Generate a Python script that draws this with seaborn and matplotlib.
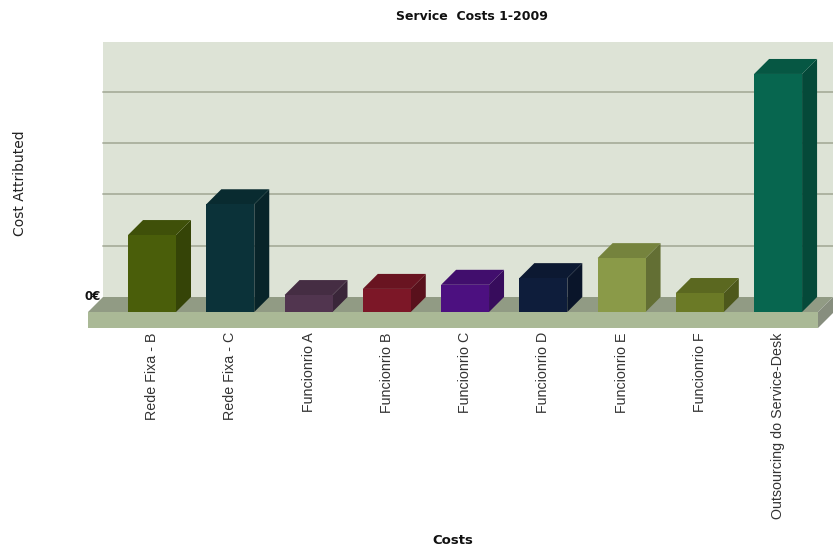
import numpy as np
import pandas as pd
import matplotlib
matplotlib.use("Agg")
import matplotlib.pyplot as plt
from matplotlib.patches import Polygon, Rectangle
import seaborn as sns

# Cost data (euros)
categories = ["Rede Fixa - B", "Rede Fixa - C", "Funcionrio A", "Funcionrio B",
              "Funcionrio C", "Funcionrio D", "Funcionrio E", "Funcionrio F",
              "Outsourcing do Service-Desk"]
costs = [1500, 2100, 330, 450, 530, 660, 1050, 370, 4640]
grid_levels = [1000, 2000, 3000, 4000]

front_colors = ["#4a5e0a", "#0b3239", "#51354f", "#7c1727", "#4c1080",
                "#0e1d3b", "#8a9a48", "#6b7a26", "#07664f"]


def shade(c, f):
    r, g, b = matplotlib.colors.to_rgb(c)
    return (r * f, g * f, b * f)


sns.set_theme(style="white")
plt.rcParams["font.family"] = ["DejaVu Sans"]

W, H = 833, 550
fig = plt.figure(figsize=(W / 100, H / 100), dpi=100)
fig.patch.set_facecolor("white")

# front plane of the 3D box (pixels)
left_px, right_px, base_px, top_px = 88, 818, 312, 57
depth = 15  # pixel offset of the back wall
ax = fig.add_axes([left_px / W, 1 - base_px / H, (right_px - left_px) / W,
                   (base_px - top_px) / H])
ax.patch.set_visible(False)

df = pd.DataFrame({"category": categories, "cost": costs})
sns.barplot(data=df, x="category", y="cost", hue="category", palette=front_colors,
            width=0.613, saturation=1, legend=False, ax=ax, zorder=5,
            edgecolor="none", linewidth=0)

ax_w = right_px - left_px
ax_h = base_px - top_px
x_lo, x_hi = -0.818, 8.51
ax.set_xlim(x_lo, x_hi)
px_per_unit = 51.3 / 1000
y_hi = ax_h / px_per_unit
ax.set_ylim(0, y_hi)

dxa, dya = depth / ax_w, depth / ax_h              # offsets in axes fraction
dxd, dyd = dxa * (x_hi - x_lo), dya * y_hi         # offsets in data units

for s in ax.spines.values():
    s.set_visible(False)

# back wall
ax.add_patch(Rectangle((dxa, dya), 1, 1, transform=ax.transAxes,
                       facecolor="#dde3d6", edgecolor="none", clip_on=False, zorder=0))
# grid on the back wall
for g in grid_levels:
    yv = g / y_hi + dya
    ax.plot([dxa, 1 + dxa], [yv, yv], transform=ax.transAxes, color="#a9af9d",
            lw=1.3, clip_on=False, zorder=1)

# floor: top, front face and right side
th = 16 / ax_h
ax.add_patch(Polygon([(0, 0), (1, 0), (1 + dxa, dya), (dxa, dya)], closed=True,
                     transform=ax.transAxes, facecolor="#919b84", edgecolor="none",
                     clip_on=False, zorder=2))
ax.add_patch(Rectangle((0, -th), 1, th, transform=ax.transAxes,
                       facecolor="#aab996", edgecolor="none", clip_on=False, zorder=2))
ax.add_patch(Polygon([(1, 0), (1 + dxa, dya), (1 + dxa, dya - th), (1, -th)], closed=True,
                     transform=ax.transAxes, facecolor="#878e7e", edgecolor="none",
                     clip_on=False, zorder=2))

# side and top faces of every bar
bars = list(ax.patches)[:len(costs)]
for bar, col in zip(bars, front_colors):
    x0, w, h = bar.get_x(), bar.get_width(), bar.get_height()
    ax.add_patch(Polygon([(x0 + w, 0), (x0 + w + dxd, dyd), (x0 + w + dxd, h + dyd), (x0 + w, h)],
                         closed=True, facecolor=shade(col, 0.72), edgecolor="none",
                         clip_on=False, zorder=4))
    ax.add_patch(Polygon([(x0, h), (x0 + w, h), (x0 + w + dxd, h + dyd), (x0 + dxd, h + dyd)],
                         closed=True, facecolor=shade(col, 0.85), edgecolor="none",
                         clip_on=False, zorder=4))

ax.set_yticks([])
ax.set_xlabel("")
ax.set_ylabel("")
ax.tick_params(axis="x", length=0, pad=14.5, labelsize=10.3, labelcolor="#333333")
for lbl in ax.get_xticklabels():
    lbl.set_rotation(90)
    lbl.set_fontfamily("Liberation Sans")

ax.text((101 - left_px) / ax_w, dya, "0€", transform=ax.transAxes, ha="right",
        va="center", fontsize=8.5, fontweight="bold", color="#111111")

fig.text(472 / W, 1 - 16 / H, "Service  Costs 1-2009", ha="center", va="center",
         fontsize=9, fontweight="bold", color="#111111")
fig.text(20 / W, 1 - 183 / H, "Cost Attributed", ha="center", va="center",
         rotation=90, fontsize=10, color="#222222")
fig.text(453 / W, 1 - 540 / H, "Costs", ha="center", va="center",
         fontsize=9.5, fontweight="bold", color="#111111")

fig.savefig("out.png", dpi=100, facecolor="white")
